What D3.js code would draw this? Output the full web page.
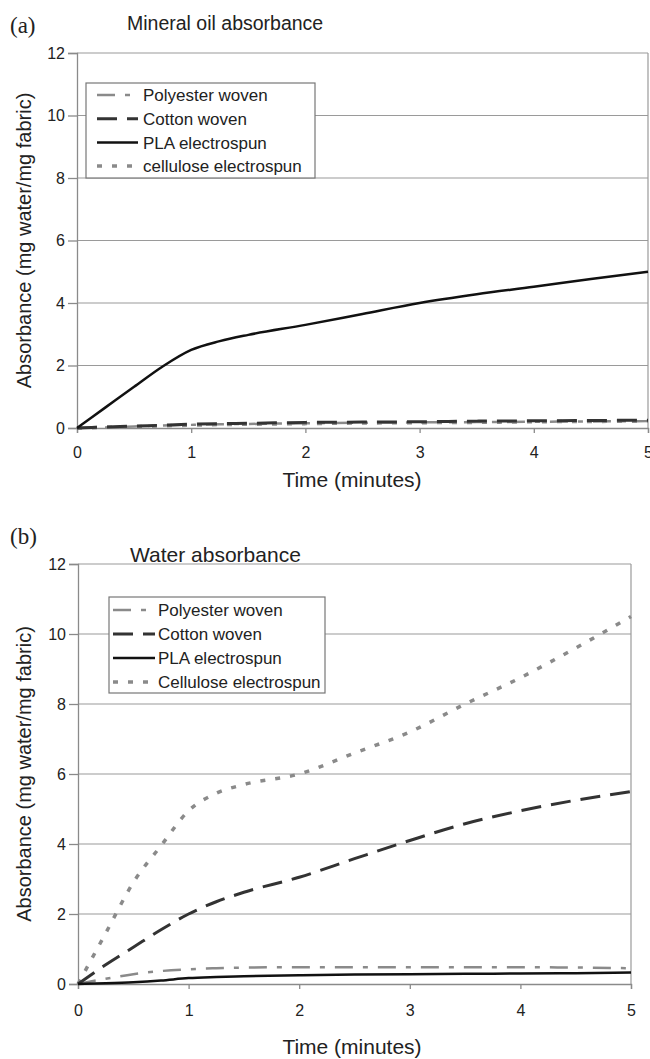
<!DOCTYPE html>
<html>
<head>
<meta charset="utf-8">
<script src="https://cdn.jsdelivr.net/npm/d3@7/dist/d3.min.js"></script>
<style>
  body { margin: 0; background: #fff; }
  svg { display: block; font-family: "Liberation Sans", Arial, sans-serif; }
</style>
</head>
<body>
<svg id="chart" width="650" height="1059"></svg>
<script>
// time points (minutes)
const times = [0, 0.25, 0.5, 0.75, 1, 1.25, 1.5, 2, 2.5, 3, 3.5, 4, 4.5, 5];

// (a) mineral oil absorbance
const oilPolyester = [0, 0.02, 0.05, 0.08, 0.1, 0.12, 0.13, 0.15, 0.17, 0.18, 0.19, 0.2, 0.21, 0.22];
const oilCotton    = [0, 0.03, 0.06, 0.09, 0.12, 0.14, 0.15, 0.18, 0.19, 0.2, 0.22, 0.23, 0.24, 0.25];
const oilPLA       = [0, 0.66, 1.32, 1.97, 2.5, 2.78, 2.98, 3.3, 3.65, 4.0, 4.28, 4.52, 4.77, 5.0];
const oilCellulose = [0, 0.02, 0.04, 0.07, 0.09, 0.11, 0.12, 0.14, 0.16, 0.17, 0.18, 0.2, 0.21, 0.22];

// (b) water absorbance
const waterPolyester = [0, 0.15, 0.28, 0.37, 0.42, 0.45, 0.47, 0.48, 0.48, 0.48, 0.48, 0.48, 0.47, 0.45];
const waterCotton    = [0, 0.55, 1.05, 1.55, 2.0, 2.35, 2.62, 3.05, 3.58, 4.1, 4.58, 4.95, 5.25, 5.5];
const waterPLA       = [0, 0.02, 0.05, 0.1, 0.17, 0.2, 0.22, 0.25, 0.27, 0.28, 0.29, 0.3, 0.31, 0.33];
const waterCellulose = [0, 1.45, 2.9, 3.95, 4.95, 5.45, 5.7, 6.0, 6.6, 7.2, 8.0, 8.75, 9.6, 10.5];

const oilNames   = ["Polyester woven", "Cotton woven", "PLA electrospun", "cellulose electrospun"];
const waterNames = ["Polyester woven", "Cotton woven", "PLA electrospun", "Cellulose electrospun"];

const xTicks = [0, 1, 2, 3, 4, 5];
const yTicks = [0, 2, 4, 6, 8, 10, 12];

// line styles for the four fabrics, same order as names
const styles = [
  { color: "#8a8a8a", width: 2.5, dash: "18,10,5,10" },
  { color: "#333333", width: 3, dash: "20,10" },
  { color: "#111111", width: 2.5, dash: null },
  { color: "#8a8a8a", width: 3.5, dash: "5,10" }
];

const svg = d3.select("#chart");

const panels = [
  {
    tag: "(a)", title: "Mineral oil absorbance",
    names: oilNames, values: [oilPolyester, oilCotton, oilPLA, oilCellulose],
    left: 77, right: 648, top: 53, bottom: 428,
    tagY: 33, titleX: 127, titleY: 30, titleSize: 19.5,
    xPad: 14, xTitleY: 487,
    legend: { x: 86, y: 83, w: 229, h: 95, rowY: 12, rowH: 23.7, lineX0: 11, lineX1: 52, textX: 57 }
  },
  {
    tag: "(b)", title: "Water absorbance",
    names: waterNames, values: [waterPolyester, waterCotton, waterPLA, waterCellulose],
    left: 78, right: 631, top: 564, bottom: 984,
    tagY: 544, titleX: 130, titleY: 562, titleSize: 21,
    xPad: 16, xTitleY: 1054,
    legend: { x: 109, y: 597, w: 216, h: 96, rowY: 13, rowH: 24, lineX0: 4, lineX1: 46, textX: 49 }
  }
];

panels.forEach(p => {
  const x = d3.scaleLinear().domain([0, 5]).range([p.left, p.right]);
  const y = d3.scaleLinear().domain([0, 12]).range([p.bottom, p.top]);

  // gridlines
  svg.append("g").selectAll("line")
    .data(yTicks.filter(d => d > 0))
    .enter().append("line")
    .attr("x1", p.left).attr("x2", p.right)
    .attr("y1", d => y(d)).attr("y2", d => y(d))
    .attr("stroke", "#9a9a9a").attr("stroke-width", 1.2);

  // right border
  svg.append("line")
    .attr("x1", p.right).attr("x2", p.right)
    .attr("y1", p.top).attr("y2", p.bottom)
    .attr("stroke", "#9a9a9a").attr("stroke-width", 1.2);

  // axes
  const yAxis = svg.append("g")
    .attr("transform", `translate(${p.left},0)`)
    .call(d3.axisLeft(y).tickValues(yTicks).tickFormat(d3.format("d")).tickSize(9).tickPadding(3));
  const xAxis = svg.append("g")
    .attr("transform", `translate(0,${p.bottom})`)
    .call(d3.axisBottom(x).tickValues(xTicks).tickFormat(d3.format("d")).tickSize(5).tickPadding(p.xPad));

  [yAxis, xAxis].forEach(a => {
    a.selectAll("path, line").attr("stroke", "#8a8a8a").attr("stroke-width", 1.3);
    a.selectAll("text").attr("fill", "#222").style("font-size", "16px")
      .style("font-family", "'Liberation Sans', Arial, sans-serif");
  });

  // series lines
  const line = d3.line()
    .x((d, i) => x(times[i]))
    .y(d => y(d))
    .curve(d3.curveMonotoneX);

  // draw PLA last so it sits on top
  [3, 0, 1, 2].forEach(k => {
    const s = styles[k];
    svg.append("path")
      .datum(p.values[k])
      .attr("d", line)
      .attr("fill", "none")
      .attr("stroke", s.color)
      .attr("stroke-width", s.width)
      .attr("stroke-dasharray", s.dash);
  });

  // legend
  const L = p.legend;
  const lg = svg.append("g").attr("transform", `translate(${L.x},${L.y})`);
  lg.append("rect")
    .attr("width", L.w).attr("height", L.h)
    .attr("fill", "#fff").attr("stroke", "#777").attr("stroke-width", 1.2);
  p.names.forEach((name, i) => {
    const s = styles[i];
    const ry = L.rowY + i * L.rowH;
    lg.append("line")
      .attr("x1", L.lineX0).attr("x2", L.lineX1)
      .attr("y1", ry).attr("y2", ry)
      .attr("stroke", s.color).attr("stroke-width", s.width)
      .attr("stroke-dasharray", s.dash);
    lg.append("text")
      .attr("x", L.textX).attr("y", ry)
      .attr("dy", "0.36em")
      .attr("fill", "#222")
      .style("font-size", "17px")
      .text(name);
  });

  // panel tag and title
  svg.append("text")
    .attr("x", 10).attr("y", p.tagY)
    .style("font-family", "'Liberation Serif', 'Times New Roman', serif")
    .style("font-size", "23px")
    .attr("fill", "#222")
    .text(p.tag);

  svg.append("text")
    .attr("x", p.titleX).attr("y", p.titleY)
    .style("font-size", p.titleSize + "px")
    .attr("fill", "#222")
    .text(p.title);

  // axis titles
  svg.append("text")
    .attr("x", 352).attr("y", p.xTitleY)
    .attr("text-anchor", "middle")
    .style("font-size", "21px")
    .attr("fill", "#222")
    .text("Time (minutes)");

  svg.append("text")
    .attr("transform", `translate(31,${(p.top + p.bottom) / 2}) rotate(-90)`)
    .attr("text-anchor", "middle")
    .style("font-size", "20px")
    .attr("fill", "#222")
    .text("Absorbance (mg water/mg fabric)");
});
</script>
</body>
</html>
